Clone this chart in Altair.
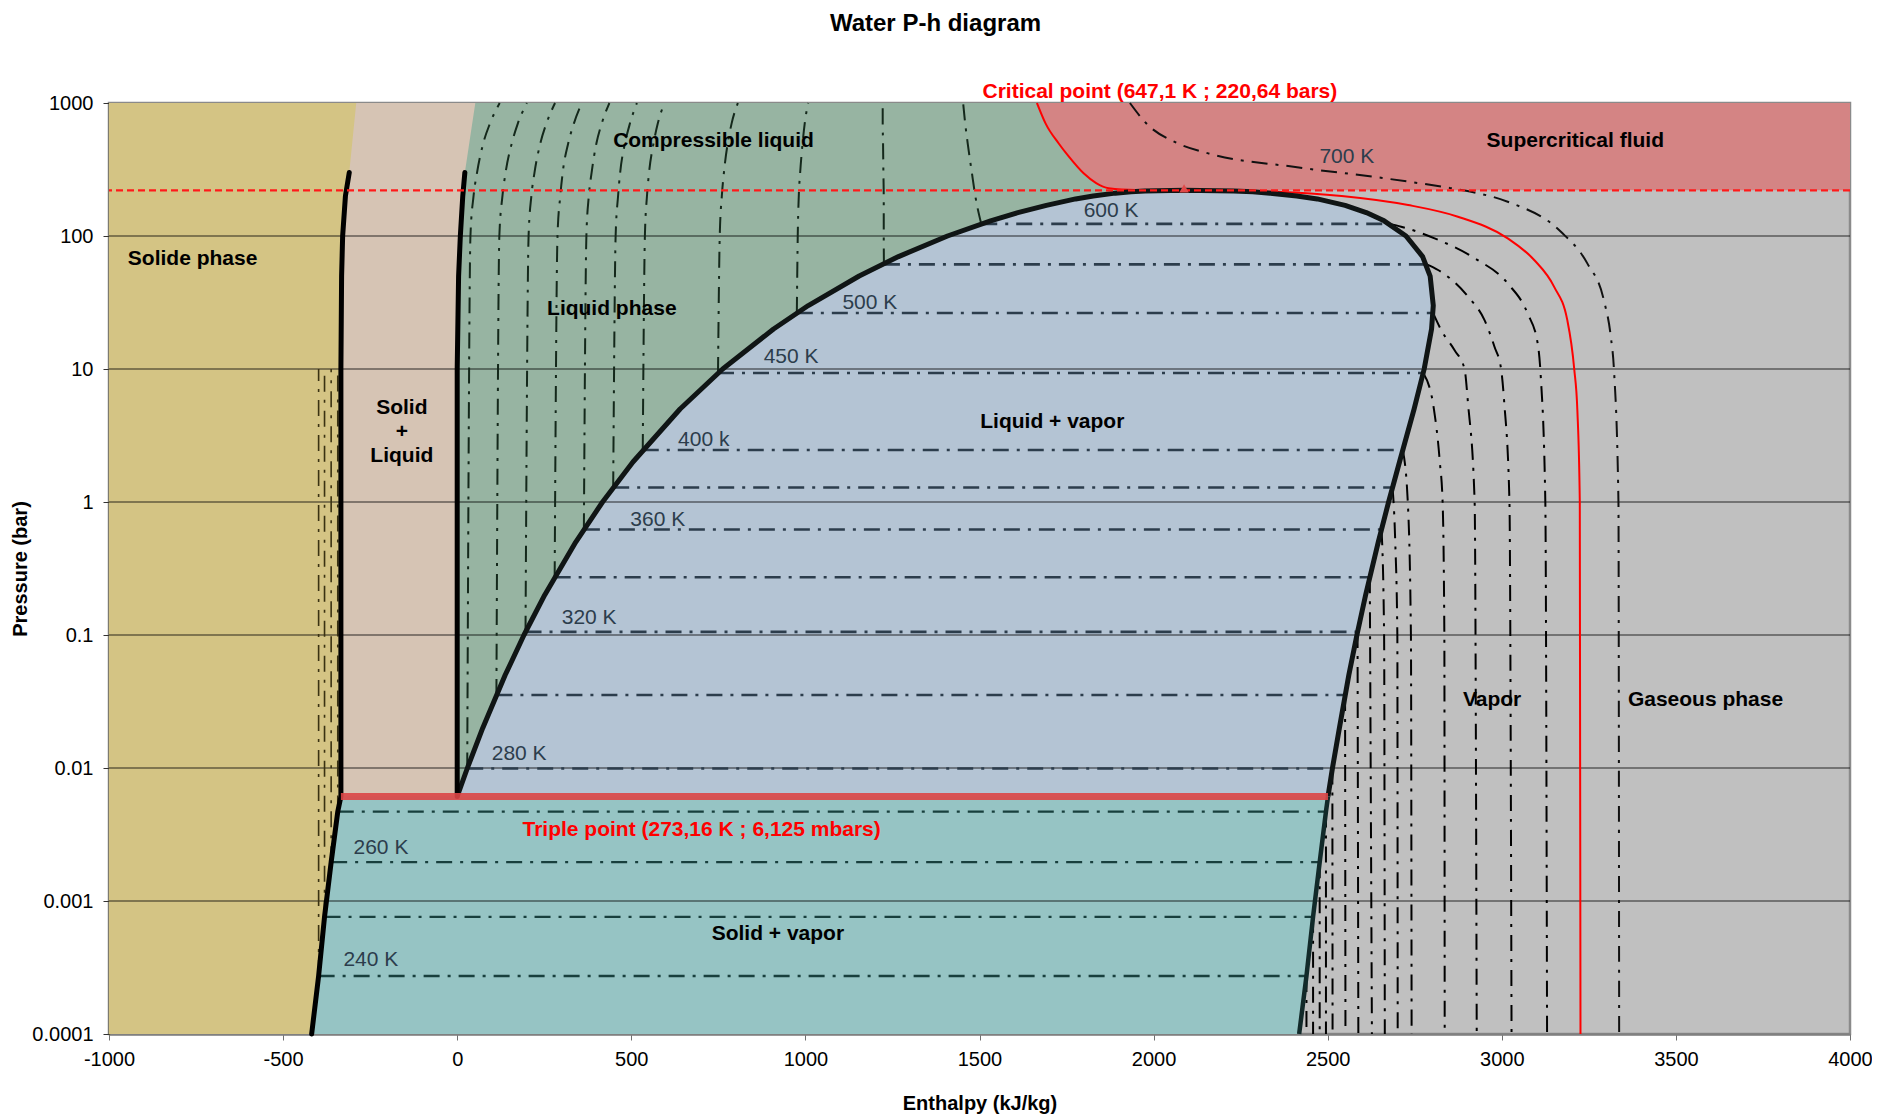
import altair as alt
import pandas as pd

FONT = "Liberation Sans"

# ---------------- axis ticks ----------------
X_TICKS = [-1000, -500, 0, 500, 1000, 1500, 2000, 2500, 3000, 3500, 4000]
Y_TICKS = [0.0001, 0.001, 0.01, 0.1, 1, 10, 100, 1000]
GRID_P = [0.001, 0.01, 0.1, 1, 10, 100]

# ---------------- saturation dome (liquid / vapor) ----------------
P_SAT = [0.006117, 0.01, 0.02, 0.05, 0.1, 0.2, 0.5, 1, 2, 5, 10, 20, 30, 50, 70,
         100, 130, 150, 170, 190, 200, 210, 215, 218, 220.64]
H_LIQ_SAT = [0.0, 29.3, 73.4, 137.8, 191.8, 251.4, 340.5, 417.5, 504.7, 640.1, 762.5,
             908.6, 1008.3, 1154.5, 1267.4, 1408.1, 1531.9, 1610.2, 1692, 1776, 1826.6,
             1889.7, 1935, 1975, 2087.5]
H_VAP_SAT = [2500.9, 2513.7, 2533.6, 2560.7, 2583.9, 2608.9, 2645.2, 2674.9, 2706.2,
             2748.1, 2777.1, 2798.3, 2803.2, 2794.2, 2772.6, 2724.9, 2662.0, 2610.7,
             2550, 2470, 2411.4, 2334.5, 2285, 2230, 2087.5]

# ---------------- sublimation (solid / vapor) ----------------
P_SUB = [0.0001, 0.000273, 0.00076, 0.00196, 0.0047, 0.006117]
H_ICE_SUB = [-418, -398, -381, -362, -343, -334]
H_VAP_SUB = [2418, 2439, 2458, 2477, 2495, 2501]

# ---------------- melting (solid / liquid) ----------------
P_MELT = [0.006117, 10, 50, 100, 200, 300]
H_MELT = [-334, -334, -332, -329, -321, -310]
H_LIQ_LINE = [0, 0, 4, 9, 16, 22]
P_TOP_EDGE = [1000]
H_SOLID_TOP = [-290]
H_LIQUID_TOP = [52]

# ---------------- critical isotherm 647.1 K ----------------
P_CRIT_LOW = [0.0001, 1, 4.9, 10, 23.4, 41.6, 66, 96, 139.7, 171, 200, 215.4, 218.5]
H_CRIT_LOW = [3226, 3224, 3217, 3208, 3188, 3150, 3093, 3017, 2874, 2731, 2540, 2350, 2230]
P_CRIT_TOP = [220.64, 222, 229, 250, 296, 400, 498, 700, 1000]
H_CRIT_TOP = [2087.5, 1950, 1871, 1835, 1799, 1755, 1727, 1690, 1665]

# ---------------- isotherms ----------------
ISO_T = [280, 300, 320, 340, 360, 380, 400, 450, 500, 550, 600]
ISO_PSAT = [0.00992, 0.0354, 0.1055, 0.272, 0.622, 1.287, 2.46, 9.32, 26.4, 61.2, 123.4]
ISO_HF = [28.8, 112.6, 196.2, 279.9, 363.8, 448.0, 532.9, 749.0, 975.4, 1225.5, 1505.0]
ISO_HG = [2513.4, 2549.9, 2585.7, 2620.9, 2654.6, 2686.2, 2715.6, 2774.5, 2802.5, 2784.0, 2677.0]

LIQ_P = [100, 200, 300, 500, 700, 1000]
LIQ_H = {
    280: [38, 47, 57, 75, 94, 122],
    300: [121, 130, 139, 157, 174, 200],
    320: [205, 213, 222, 239, 256, 281],
    340: [288, 296, 303, 319, 335, 358],
    360: [371, 378, 386, 400, 415, 437],
    380: [455, 462, 468, 482, 496, 516],
    400: [539, 545, 551, 564, 576, 595],
    450: [754, 760, 766, 777, 788, 806],
    500: [978, 981, 985, 992, 998, 1008],
    550: [1225, 1225, 1224, 1223, 1222, 1222],
}
LIQ600_P = [123.4, 200, 300, 500, 700, 1000]
LIQ600_H = [1505, 1488, 1478, 1466, 1459, 1453]

VAP_ISO = {
    280: ([0.00992, 0.0001], [2513.4, 2514]),
    300: ([0.0354, 0.0001], [2549.9, 2551]),
    320: ([0.1055, 0.0001], [2585.7, 2588]),
    340: ([0.272, 0.0001], [2620.9, 2627]),
    360: ([0.622, 0.1, 0.0001], [2654.6, 2662, 2664]),
    380: ([1.287, 0.5, 0.1, 0.0001], [2686.2, 2694, 2700, 2701]),
    400: ([2.46, 1, 0.1, 0.0001], [2715.6, 2730, 2739, 2741]),
    450: ([9.32, 5, 2, 1, 0.1, 0.0001], [2774.5, 2805, 2822, 2830, 2835, 2836]),
    500: ([26.4, 19.6, 13.9, 10, 5.5, 1, 0.0001], [2802.5, 2826, 2864, 2893, 2903, 2922, 2928]),
    550: ([61.2, 55.5, 35, 23.4, 14.7, 10, 5.6, 1, 0.0001],
          [2784, 2817, 2903, 2950, 2979, 2998, 3007, 3022, 3028]),
    600: ([123.4, 117.5, 96, 68, 44, 26.2, 15.6, 8.7, 1, 0.0001],
          [2677, 2711, 2807, 2922, 3017, 3074, 3103, 3112, 3125, 3130]),
}
P_700 = [1000, 707, 500, 418, 330, 273, 229, 215, 181, 108, 62, 33, 17.5, 10, 1, 0.0001]
H_700 = [1932, 1978, 2067, 2157, 2407, 2657, 2853, 2912, 3017, 3169, 3246, 3293, 3313, 3322, 3335, 3337]

# ---------------- labels ----------------
REGION_TXT = ["Solide phase", "Solid", "+", "Liquid", "Compressible liquid", "Liquid phase",
              "Liquid + vapor", "Supercritical fluid", "Vapor", "Gaseous phase", "Solid + vapor"]
REGION_H = [-760, -159, -159, -159, 736, 444, 1709, 3211, 2972, 3585, 921]
REGION_P = [67, 5.09, 3.36, 2.22, 514, 28.2, 3.99, 514, 0.0324, 0.0324, 0.000565]

RED_TXT = ["Critical point (647,1 K ; 220,64 bars)", "Triple point (273,16 K ; 6,125 mbars)"]
RED_H = [2018, 702]
RED_P = [1210, 0.00342]

ISO_LBL = ["240 K", "260 K", "280 K", "320 K", "360 K", "400 k", "450 K", "500 K", "600 K", "700 K"]
ISO_LBL_H = [-248, -219, 178, 379, 576, 708, 959, 1185, 1878, 2555]
ISO_LBL_P = [0.00036, 0.0025, 0.0127, 0.134, 0.733, 2.92, 12.3, 31.3, 154, 393]

CRIT_H = [2087.5]
CRIT_P = [220.64]
TRIPLE_P = [0.006117]

# ---------------- colours ----------------
C_SOLID = "#D4C484"
C_SOLLIQ = "#D6C4B4"
C_LIQ = "#97B4A2"
C_DOME = "#B4C4D4"
C_SOLVAP = "#96C4C4"
C_SUPER = "#D48484"
C_GRAY = "#C0C0C0"
LINE_COL = {"liq": "#14281B", "dome": "#2C3D4C", "vap": "#000000", "sv": "#183F3D",
            "ice": "#3A3212", "sup": "#111111"}
LINE_W = {"liq": 2, "dome": 2.6, "vap": 2, "sv": 2.4, "ice": 1.6, "sup": 2}

# ---------------- scales / axes ----------------
xs = alt.Scale(domain=[-1000, 4000], nice=False, zero=False)
ys = alt.Scale(type="log", domain=[0.0001, 1000], nice=False)
xaxis = alt.Axis(values=X_TICKS, labelExpr="datum.value + ''", grid=False, tickSize=6,
                 tickColor="#707070", domainColor="#808080", domainWidth=2.5,
                 labelFontSize=20, labelFont=FONT, labelColor="black", labelPadding=9,
                 labelFlush=False, labelOverlap=False,
                 title="Enthalpy (kJ/kg)", titleFont=FONT, titleFontSize=20,
                 titleFontWeight="bold", titleColor="black", titlePadding=24)
yaxis = alt.Axis(values=Y_TICKS, format="~g", grid=False, tickSize=6, tickColor="#333333",
                 domainColor="#5a5020", domainWidth=1.5,
                 labelFontSize=20, labelFont=FONT, labelColor="black", labelPadding=10,
                 labelFlush=False, labelOverlap=False,
                 title="Pressure (bar)", titleFont=FONT, titleFontSize=20,
                 titleFontWeight="bold", titleColor="black", titlePadding=1)


def X(f):
    return alt.X(f, type="quantitative", scale=xs, axis=xaxis)


def Y(f):
    return alt.Y(f, type="quantitative", scale=ys, axis=yaxis)


def area(ps, h1, h2, color):
    df = pd.DataFrame({"p": ps, "h1": h1, "h2": h2})
    return alt.Chart(df).mark_area(orient="horizontal", color=color, opacity=1).encode(
        y=Y("p"), x=X("h1"), x2="h2")


layers = []
# green liquid region (left part hidden under solid+liquid and solid)
layers.append(area(P_SAT + P_CRIT_TOP[1:], [-1000] * (len(P_SAT) + len(P_CRIT_TOP) - 1),
                   H_LIQ_SAT + H_CRIT_TOP[1:], C_LIQ))
# solid + liquid
layers.append(area(P_MELT + P_TOP_EDGE, [-1000] * (len(P_MELT) + 1),
                   H_LIQ_LINE + H_LIQUID_TOP, C_SOLLIQ))
# solid
layers.append(area(P_SUB + P_MELT[1:] + P_TOP_EDGE, [-1000] * (len(P_SUB) + len(P_MELT)),
                   H_ICE_SUB + H_MELT[1:] + H_SOLID_TOP, C_SOLID))
# solid + vapor
layers.append(area(P_SUB, H_ICE_SUB, H_VAP_SUB, C_SOLVAP))
# liquid + vapor dome
layers.append(area(P_SAT, H_LIQ_SAT, H_VAP_SAT, C_DOME))
# supercritical
layers.append(area(P_CRIT_TOP, H_CRIT_TOP, [4000] * len(P_CRIT_TOP), C_SUPER))

# grid lines
layers.append(alt.Chart(pd.DataFrame({"p": GRID_P})).mark_rule(
    color="black", strokeWidth=1.1, opacity=0.8).encode(y=Y("p")))

# isotherms
rows = []


def add_line(seg, hs, ps, grp):
    for i, (h, p) in enumerate(zip(hs, ps)):
        rows.append({"seg": seg, "i": i, "h": h, "p": p, "col": LINE_COL[grp], "w": LINE_W[grp]})


for k, T in enumerate(ISO_T):
    if T == 600:
        add_line(f"l{T}", LIQ600_H, LIQ600_P, "liq")
    else:
        add_line(f"l{T}", [ISO_HF[k]] + LIQ_H[T], [ISO_PSAT[k]] + LIQ_P, "liq")
    add_line(f"d{T}", [ISO_HF[k], ISO_HG[k]], [ISO_PSAT[k], ISO_PSAT[k]], "dome")
    vp, vh = VAP_ISO[T]
    add_line(f"v{T}", vh, vp, "vap")

for k in range(1, 5):
    add_line(f"i{k}", [H_ICE_SUB[k], H_ICE_SUB[k]], [P_SUB[k], 10], "ice")
    add_line(f"s{k}", [H_ICE_SUB[k], H_VAP_SUB[k]], [P_SUB[k], P_SUB[k]], "sv")
    add_line(f"w{k}", [H_VAP_SUB[k], H_VAP_SUB[k]], [P_SUB[k], 0.0001], "vap")

add_line("t700", H_700, P_700, "sup")

iso_df = pd.DataFrame(rows)
layers.append(alt.Chart(iso_df).mark_line(strokeDash=[16, 8, 3, 8], interpolate="monotone").encode(
    x=X("h"), y=Y("p"), detail="seg:N", order="i:Q",
    color=alt.Color("col:N", scale=None), strokeWidth=alt.StrokeWidth("w:Q", scale=None)))

# critical isotherm (red)
crit_df = pd.DataFrame({"h": H_CRIT_LOW + H_CRIT_TOP, "p": P_CRIT_LOW + P_CRIT_TOP,
                        "i": list(range(len(H_CRIT_LOW) + len(H_CRIT_TOP)))})
layers.append(alt.Chart(crit_df).mark_line(color="#FF0000", strokeWidth=2, interpolate="monotone").encode(
    x=X("h"), y=Y("p"), order="i:Q"))

# thick phase boundaries
dome_h = H_LIQ_SAT + H_VAP_SAT[::-1][1:]
dome_p = P_SAT + P_SAT[::-1][1:]
dome_df = pd.DataFrame({"h": dome_h, "p": dome_p, "i": list(range(len(dome_h)))})
layers.append(alt.Chart(dome_df).mark_line(color="#101515", strokeWidth=5, strokeJoin="round").encode(
    x=X("h"), y=Y("p"), order="i:Q"))

subv_df = pd.DataFrame({"h": H_VAP_SUB, "p": P_SUB, "i": list(range(len(P_SUB)))})
layers.append(alt.Chart(subv_df).mark_line(color="#122A2A", strokeWidth=4.5).encode(
    x=X("h"), y=Y("p"), order="i:Q"))

solid_h = H_ICE_SUB + H_MELT[1:]
solid_p = P_SUB + P_MELT[1:]
solid_df = pd.DataFrame({"h": solid_h, "p": solid_p, "i": list(range(len(solid_h)))})
layers.append(alt.Chart(solid_df).mark_line(color="#000000", strokeWidth=5, strokeCap="round").encode(
    x=X("h"), y=Y("p"), order="i:Q"))

liql_df = pd.DataFrame({"h": H_LIQ_LINE, "p": P_MELT, "i": list(range(len(P_MELT)))})
layers.append(alt.Chart(liql_df).mark_line(color="#000000", strokeWidth=5, strokeCap="round").encode(
    x=X("h"), y=Y("p"), order="i:Q"))

# critical pressure dashed line
layers.append(alt.Chart(pd.DataFrame({"p": CRIT_P})).mark_rule(
    color="#FF1A1A", strokeWidth=2.2, strokeDash=[7, 4]).encode(y=Y("p")))

# triple point line
tp_df = pd.DataFrame({"h1": [H_MELT[0]], "h2": [H_VAP_SAT[0]], "p": TRIPLE_P})
layers.append(alt.Chart(tp_df).mark_rule(color="#DC4646", strokeWidth=7, opacity=0.9).encode(
    x=X("h1"), x2="h2", y=Y("p")))

# critical point marker
layers.append(alt.Chart(pd.DataFrame({"h": CRIT_H, "p": CRIT_P})).mark_point(
    shape="triangle-up", filled=True, size=90, color="#E04A4A", opacity=1, yOffset=-2).encode(
    x=X("h"), y=Y("p")))

# texts
reg_df = pd.DataFrame({"t": REGION_TXT, "h": REGION_H, "p": REGION_P})
layers.append(alt.Chart(reg_df).mark_text(font=FONT, fontSize=21, fontWeight="bold",
                                          color="#000000", align="center", baseline="middle").encode(
    x=X("h"), y=Y("p"), text="t:N"))

red_df = pd.DataFrame({"t": RED_TXT, "h": RED_H, "p": RED_P})
layers.append(alt.Chart(red_df).mark_text(font=FONT, fontSize=21, fontWeight="bold",
                                          color="#FF0000", align="center", baseline="middle").encode(
    x=X("h"), y=Y("p"), text="t:N"))

lbl_df = pd.DataFrame({"t": ISO_LBL, "h": ISO_LBL_H, "p": ISO_LBL_P})
layers.append(alt.Chart(lbl_df).mark_text(font=FONT, fontSize=21, color="#2C3D4C",
                                          align="center", baseline="middle").encode(
    x=X("h"), y=Y("p"), text="t:N"))

chart = alt.layer(*layers).properties(
    width=1741, height=931,
    title=alt.TitleParams("Water P-h diagram", font=FONT, fontSize=24, fontWeight="bold",
                          color="black", anchor="middle", dx=-44, offset=45),
    padding={"left": 101, "top": 95, "right": 22, "bottom": 80},
    autosize=alt.AutoSizeParams(type="none"),
).configure_view(fill=C_GRAY, stroke="#8a8a8a", strokeWidth=2.5)

chart.save("out.html", embed_options={"renderer": "svg", "actions": False})
